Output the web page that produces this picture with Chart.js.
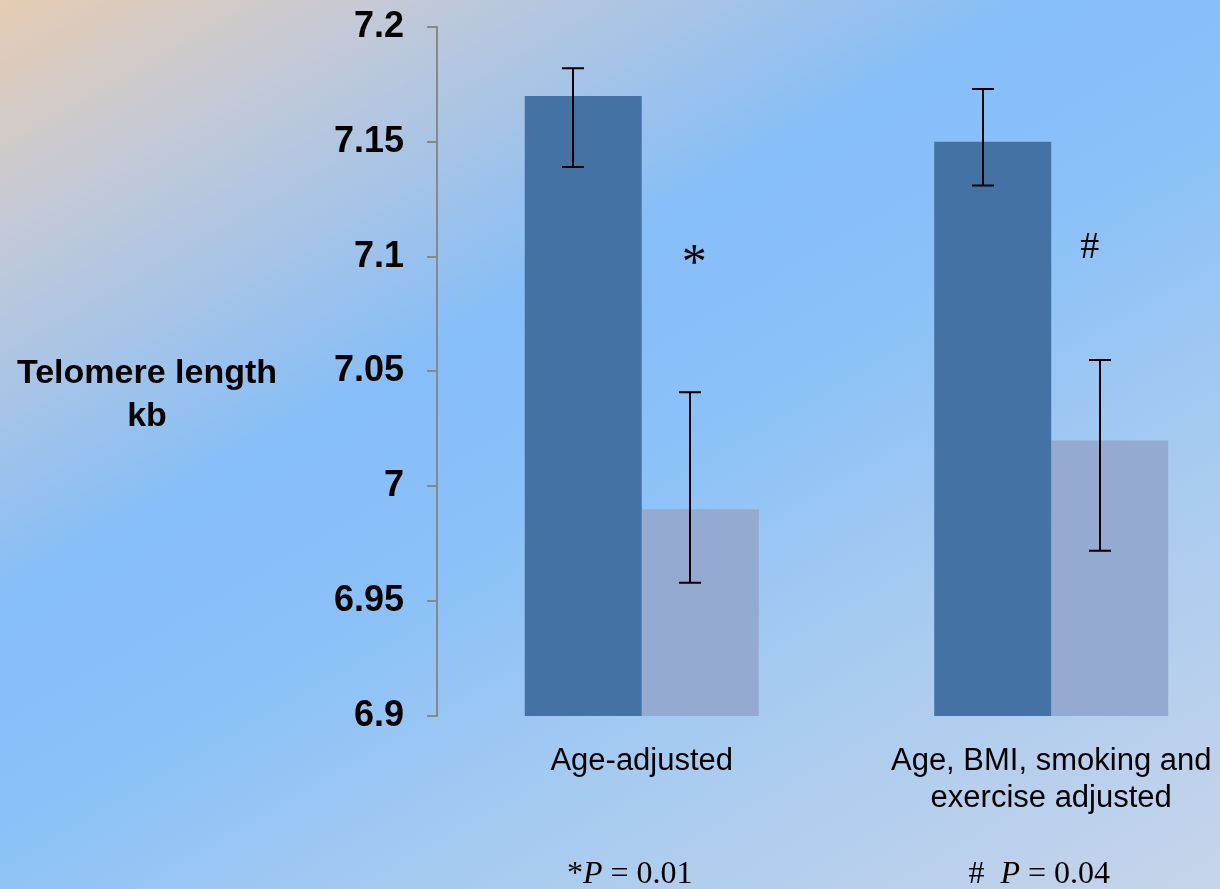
<!DOCTYPE html>
<html>
<head>
<meta charset="utf-8">
<script src="https://cdn.jsdelivr.net/npm/chart.js@4/dist/chart.umd.min.js"></script>
<style>
  html, body { margin: 0; padding: 0; }
  body {
    width: 1220px; height: 889px; overflow: hidden;
    background: linear-gradient(150deg, #E6CCB2 0%, #C2C9D8 15%, #86BEF8 38%, #8BC1F8 52%, #A7CBF0 72%, #C7D4EA 100%);
  }
  .wrap { position: relative; width: 1220px; height: 889px; }
</style>
</head>
<body>
<div class="wrap"><canvas id="chart1"></canvas></div>
<script>
const chart1 = document.querySelector('#chart1');

// data
const categories = [['Age-adjusted'], ['Age, BMI, smoking and', 'exercise adjusted']];
const darkValues = [7.17, 7.15];
const darkUpper = [7.182, 7.173];
const darkLower = [7.139, 7.131];
const lightValues = [6.99, 7.02];
const lightUpper = [7.041, 7.055];
const lightLower = [6.958, 6.972];
const marks = ['*', '#'];
const markLevel = [7.1, 7.1];
const pNotes = ['*P = 0.01', '#  P = 0.04'];
const yTitle = ['Telomere length', 'kb'];

const SANS = '"Liberation Sans", Arial, sans-serif';
const SERIF = '"Liberation Serif", "Times New Roman", serif';

// error bars + text annotations
const extras = {
    id: 'extras',
    afterDatasetsDraw(chart) {
        const ctx = chart.ctx;
        const y = chart.scales.y;
        const ranges = [[darkUpper, darkLower], [lightUpper, lightLower]];
        ctx.save();
        ctx.strokeStyle = '#000';
        ctx.lineWidth = 2;
        ranges.forEach((r, d) => {
            chart.getDatasetMeta(d).data.forEach((bar, i) => {
                const x = Math.round(bar.x) - 10;
                const top = y.getPixelForValue(r[0][i]);
                const bot = y.getPixelForValue(r[1][i]);
                ctx.beginPath();
                ctx.moveTo(x, top); ctx.lineTo(x, bot);
                ctx.moveTo(x - 11, top); ctx.lineTo(x + 11, top);
                ctx.moveTo(x - 11, bot); ctx.lineTo(x + 11, bot);
                ctx.stroke();
            });
        });
        ctx.restore();
    },
    afterDraw(chart) {
        const ctx = chart.ctx;
        const y = chart.scales.y;
        ctx.save();
        ctx.fillStyle = '#000';

        // * and # above the light bars
        chart.getDatasetMeta(1).data.forEach((bar, i) => {
            ctx.textAlign = 'center';
            ctx.textBaseline = 'middle';
            ctx.font = i === 0 ? '50px ' + SERIF : '38px ' + SERIF;
            ctx.fillText(marks[i], bar.x - 6 - i * 14, y.getPixelForValue(markLevel[i]) + (i === 0 ? 8 : -9));
        });

        // y title
        ctx.font = 'bold 34px ' + SANS;
        ctx.textAlign = 'center';
        ctx.textBaseline = 'alphabetic';
        yTitle.forEach((t, i) => ctx.fillText(t, 147, 383 + i * 43));

        // p-value notes under each group
        ctx.textAlign = 'left';
        chart.getDatasetMeta(0).data.forEach((bar, i) => {
            const cx = bar.x + bar.width / 2 - 12;
            const parts = pNotes[i].split('P');
            const seg = [[parts[0], '32px ' + SERIF], ['P', 'italic 32px ' + SERIF], [parts[1], '32px ' + SERIF]];
            let w = 0;
            seg.forEach(s => { ctx.font = s[1]; w += ctx.measureText(s[0]).width; });
            let x = cx - w / 2;
            seg.forEach(s => { ctx.font = s[1]; ctx.fillText(s[0], x, 883); x += ctx.measureText(s[0]).width; });
        });
        ctx.restore();
    }
};

const displayChart = () => {
    const data = {
        datasets: [{
            label: 'dark',
            data: darkValues.map((v, i) => ({ x: i + 0.5, y: v })),
            backgroundColor: 'rgb(68, 114, 164)',
            borderWidth: 0,
        }, {
            label: 'light',
            data: lightValues.map((v, i) => ({ x: i + 0.5, y: v })),
            backgroundColor: 'rgb(149, 170, 208)',
            borderWidth: 0,
        }]
    };

    const config = {
        type: 'bar',
        data: data,
        options: {
            responsive: true,
            maintainAspectRatio: false,
            animation: false,
            categoryPercentage: 0.5714,
            barPercentage: 1,
            layout: { padding: { top: 27, right: 5, bottom: 0, left: 0 } },
            plugins: {
                legend: { display: false },
                tooltip: { enabled: false },
            },
            scales: {
                x: {
                    type: 'linear',
                    offset: false,
                    min: 0,
                    max: 1.9,
                    grid: { display: false, drawTicks: false, offset: false },
                    border: { display: false },
                    afterBuildTicks: s => { s.ticks = categories.map((c, i) => ({ value: i + 0.5 })); },
                    afterFit: s => { s.height = 173; s.paddingLeft = 0; s.paddingRight = 0; },
                    ticks: {
                        padding: 27,
                        color: '#000',
                        maxRotation: 0,
                        autoSkip: false,
                        font: { family: SANS, size: 31, lineHeight: 1.2 },
                        callback: v => categories[Math.round(v - 0.5)],
                    },
                },
                y: {
                    min: 6.9,
                    max: 7.2,
                    grid: { drawOnChartArea: false, drawTicks: true, tickLength: 10, color: '#888', lineWidth: 2 },
                    border: { color: '#888', width: 2 },
                    afterFit: s => { s.width = 437; s.paddingTop = 0; s.paddingBottom = 0; },
                    ticks: {
                        stepSize: 0.05,
                        padding: 23,
                        color: '#000',
                        font: { family: SANS, size: 36, weight: 'bold' },
                        callback: v => String(+v.toFixed(2)),
                    },
                },
            },
        },
        plugins: [extras],
    };
    new Chart(chart1, config);
};
displayChart();
</script>
</body>
</html>
